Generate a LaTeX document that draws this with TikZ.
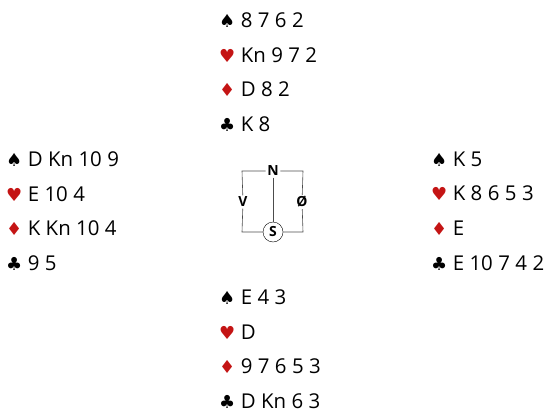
\documentclass[tikz,border=0pt]{standalone}
\usepackage{fontspec}
\setmainfont{Open Sans}[WordSpace=1.02]
\newfontfamily\suitfont{DejaVu Sans}[Scale=0.88]
\usetikzlibrary{positioning}
\definecolor{suitred}{HTML}{C41414}
\newcommand{\Sp}{{\suitfont ♠}\hspace{5.5pt}}
\newcommand{\Hj}{{\suitfont\color{suitred}♥}\hspace{5.5pt}}
\newcommand{\Ru}{{\suitfont\color{suitred}♦}\hspace{5.5pt}}
\newcommand{\Kl}{{\suitfont ♣}\hspace{5.5pt}}
\tikzset{
hand/.style={align=left,font=\fontsize{20.5}{34.7}\selectfont,inner sep=0pt,anchor=west},
seat/.style={font=\fontsize{14}{14}\selectfont\bfseries,inner sep=1.5pt},
seatline/.style={draw=black!70,line width=0.6pt}
}
\begin{document}
\begin{tikzpicture}[x=1bp,y=1bp]
\useasboundingbox (0,0) rectangle (558,412);
% the four hands
\node[hand](north) at (219,340){\Sp 8 7 6 2\\\Hj Kn 9 7 2\\\Ru D 8 2\\\Kl K 8};
\node[hand](west) at (6,201){\Sp D Kn 10 9\\\Hj E 10 4\\\Ru K Kn 10 4\\\Kl 9 5};
\node[hand](east) at (431,201){\Sp K 5\\\Hj K 8 6 5 3\\\Ru E\\\Kl E 10 7 4 2};
\node[hand](south) at (219,63){\Sp E 4 3\\\Hj D\\\Ru 9 7 6 5 3\\\Kl D Kn 6 3};
% compass
\node[seat](nn) at (273,241){N};
\node[seat,draw,circle,inner sep=1pt,minimum size=20bp](ss) at (273,180){S};
\node[seat](vv) at (243,210){V};
\node[seat](oo) at (302,210){Ø};
\coordinate(nw) at (242,241);\coordinate(ne) at (303,241);
\coordinate(sw) at (242,180);\coordinate(se) at (303,180);
\draw[seatline](nn)--(nw)--(vv);\draw[seatline](vv)--(sw)--(ss);
\draw[seatline](ss)--(se)--(oo);\draw[seatline](oo)--(ne)--(nn);
\draw[seatline](nn)--(ss);
\end{tikzpicture}
\end{document}
